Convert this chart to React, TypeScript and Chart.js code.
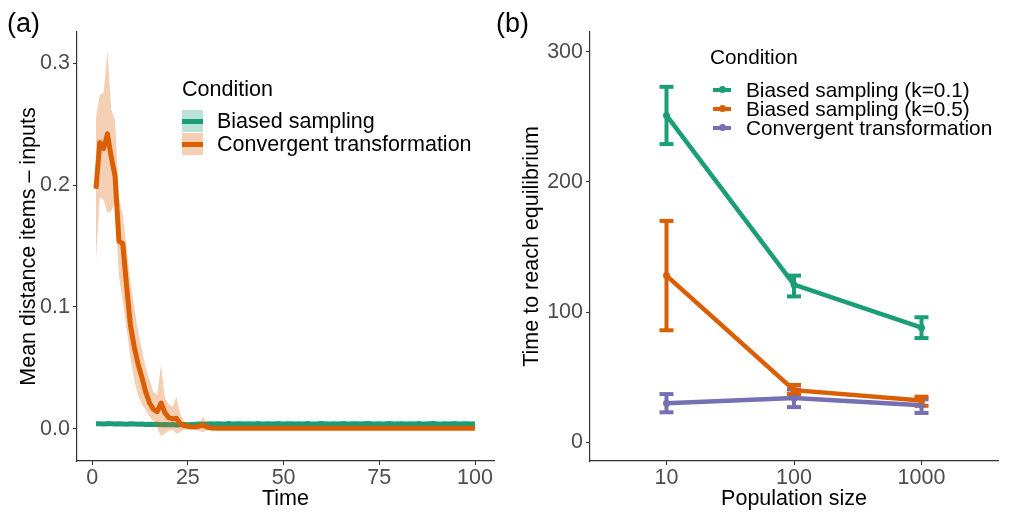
import React, { useEffect, useRef } from "react";
import { Chart, registerables } from "chart.js";

Chart.register(...registerables);

const FONT = "'Liberation Sans', Arial, Helvetica, sans-serif";
const GREEN = "#1B9E77";
const ORANGE = "#D95F02";
const PURPLE = "#7570B3";
const GREEN_FILL = "rgba(27,158,119,0.3)";
const ORANGE_FILL = "rgba(217,95,2,0.3)";
const TICK_COLOR = "#4D4D4D";
const AXIS_COLOR = "#333333";
const TEXT_SIZE = 21.5;
const LEGEND_B_SIZE = 20.8;

// ---------------- Panel (a) data ----------------
const timeSteps = Array.from({ length: 100 }, (_, i) => i + 1);
const timeTicks = [0, 25, 50, 75, 100];
const distanceTicks = [0, 0.1, 0.2, 0.3];

const convergentMean = [
  0.197, 0.235, 0.230, 0.242, 0.223, 0.207, 0.154, 0.152, 0.117, 0.085,
  0.067, 0.053, 0.042, 0.030, 0.021, 0.016, 0.014, 0.021, 0.013, 0.009,
  0.008, 0.0085, 0.004, 0.0025, 0.0018, 0.0013, 0.0013, 0.0020, 0.0027, 0.0012,
  0.0005, 0.0003, 0.0003, 0.0002, 0.0003, 0.0003, 0.0002, 0.0003, 0.0003, 0.0002,
  0.0003, 0.0002, 0.0003, 0.0003, 0.0002, 0.0003, 0.0002, 0.0003, 0.0003, 0.0002,
  0.0003, 0.0003, 0.0002, 0.0003, 0.0002, 0.0003, 0.0003, 0.0002, 0.0003, 0.0003,
  0.0002, 0.0003, 0.0003, 0.0002, 0.0003, 0.0002, 0.0003, 0.0003, 0.0002, 0.0003,
  0.0003, 0.0002, 0.0003, 0.0002, 0.0003, 0.0003, 0.0002, 0.0003, 0.0003, 0.0002,
  0.0003, 0.0002, 0.0003, 0.0003, 0.0002, 0.0003, 0.0002, 0.0003, 0.0003, 0.0002,
  0.0003, 0.0003, 0.0002, 0.0003, 0.0002, 0.0003, 0.0003, 0.0002, 0.0003, 0.0003,
];
const convergentUpper = [
  0.255, 0.274, 0.276, 0.310, 0.262, 0.253, 0.190, 0.175, 0.150, 0.120,
  0.100, 0.080, 0.065, 0.050, 0.040, 0.030, 0.028, 0.052, 0.025, 0.020,
  0.018, 0.026, 0.012, 0.006, 0.004, 0.003, 0.003, 0.005, 0.0095, 0.004,
  0.0020, 0.0012, 0.0011, 0.0010, 0.0012, 0.0011, 0.0010, 0.0011, 0.0012, 0.0010,
  0.0011, 0.0010, 0.0012, 0.0011, 0.0010, 0.0011, 0.0010, 0.0012, 0.0011, 0.0010,
  0.0011, 0.0012, 0.0010, 0.0011, 0.0010, 0.0011, 0.0012, 0.0010, 0.0011, 0.0011,
  0.0010, 0.0011, 0.0012, 0.0010, 0.0011, 0.0010, 0.0011, 0.0012, 0.0010, 0.0011,
  0.0011, 0.0010, 0.0012, 0.0010, 0.0011, 0.0011, 0.0010, 0.0011, 0.0012, 0.0010,
  0.0011, 0.0010, 0.0011, 0.0012, 0.0010, 0.0011, 0.0010, 0.0011, 0.0012, 0.0010,
  0.0011, 0.0012, 0.0010, 0.0011, 0.0010, 0.0011, 0.0012, 0.0010, 0.0011, 0.0011,
];
const convergentLower = [
  0.138, 0.190, 0.188, 0.177, 0.179, 0.185, 0.125, 0.105, 0.082, 0.058,
  0.040, 0.027, 0.020, 0.015, 0.010, 0.006, 0.000, -0.006, -0.004, -0.002,
  -0.001, -0.004, -0.003, -0.001, -0.0005, -0.0005, -0.0005, -0.002, -0.003, -0.001,
  -0.0005, -0.0006, -0.0005, -0.0006, -0.0005, -0.0005, -0.0006, -0.0005, -0.0005, -0.0006,
  -0.0005, -0.0006, -0.0005, -0.0005, -0.0006, -0.0005, -0.0006, -0.0005, -0.0005, -0.0006,
  -0.0005, -0.0005, -0.0006, -0.0005, -0.0006, -0.0005, -0.0005, -0.0006, -0.0005, -0.0005,
  -0.0006, -0.0005, -0.0005, -0.0006, -0.0005, -0.0006, -0.0005, -0.0005, -0.0006, -0.0005,
  -0.0005, -0.0006, -0.0005, -0.0006, -0.0005, -0.0005, -0.0006, -0.0005, -0.0005, -0.0006,
  -0.0005, -0.0006, -0.0005, -0.0005, -0.0006, -0.0005, -0.0006, -0.0005, -0.0005, -0.0006,
  -0.0005, -0.0005, -0.0006, -0.0005, -0.0006, -0.0005, -0.0005, -0.0006, -0.0005, -0.0005,
];

const biasedMean = [
  0.0039, 0.0040, 0.0038, 0.0041, 0.0039, 0.0037, 0.0040, 0.0038, 0.0036, 0.0039,
  0.0037, 0.0035, 0.0038, 0.0034, 0.0036, 0.0033, 0.0035, 0.0032, 0.0034, 0.0031,
  0.0033, 0.0030, 0.0032, 0.0034, 0.0031, 0.0033, 0.0035, 0.0037, 0.0036, 0.0038,
  0.0039, 0.0037, 0.0040, 0.0038, 0.0039, 0.0041, 0.0038, 0.0040, 0.0039, 0.0037,
  0.0040, 0.0038, 0.0041, 0.0039, 0.0038, 0.0040, 0.0037, 0.0039, 0.0041, 0.0038,
  0.0040, 0.0039, 0.0037, 0.0040, 0.0038, 0.0041, 0.0039, 0.0038, 0.0040, 0.0043,
  0.0039, 0.0038, 0.0040, 0.0037, 0.0039, 0.0041, 0.0038, 0.0040, 0.0039, 0.0037,
  0.0040, 0.0042, 0.0039, 0.0038, 0.0040, 0.0037, 0.0039, 0.0041, 0.0038, 0.0040,
  0.0039, 0.0037, 0.0040, 0.0038, 0.0041, 0.0039, 0.0038, 0.0040, 0.0042, 0.0039,
  0.0038, 0.0040, 0.0037, 0.0039, 0.0041, 0.0038, 0.0040, 0.0039, 0.0038, 0.0041,
];
const biasedUpper = [
  0.0051, 0.0052, 0.0050, 0.0053, 0.0051, 0.0049, 0.0052, 0.0050, 0.0048, 0.0051,
  0.0049, 0.0047, 0.0050, 0.0046, 0.0048, 0.0045, 0.0047, 0.0044, 0.0046, 0.0043,
  0.0045, 0.0042, 0.0044, 0.0046, 0.0043, 0.0045, 0.0047, 0.0049, 0.0048, 0.0050,
  0.0051, 0.0049, 0.0052, 0.0050, 0.0051, 0.0053, 0.0050, 0.0052, 0.0051, 0.0049,
  0.0052, 0.0050, 0.0053, 0.0051, 0.0050, 0.0052, 0.0049, 0.0051, 0.0053, 0.0050,
  0.0052, 0.0051, 0.0049, 0.0052, 0.0050, 0.0053, 0.0051, 0.0050, 0.0052, 0.0055,
  0.0051, 0.0050, 0.0052, 0.0049, 0.0051, 0.0053, 0.0050, 0.0052, 0.0051, 0.0049,
  0.0052, 0.0054, 0.0051, 0.0050, 0.0052, 0.0049, 0.0051, 0.0053, 0.0050, 0.0052,
  0.0051, 0.0049, 0.0052, 0.0050, 0.0053, 0.0051, 0.0050, 0.0052, 0.0054, 0.0051,
  0.0050, 0.0052, 0.0049, 0.0051, 0.0053, 0.0050, 0.0052, 0.0051, 0.0050, 0.0053,
];
const biasedLower = [
  0.0027, 0.0028, 0.0026, 0.0029, 0.0027, 0.0025, 0.0028, 0.0026, 0.0024, 0.0027,
  0.0025, 0.0023, 0.0026, 0.0022, 0.0024, 0.0021, 0.0023, 0.0020, 0.0022, 0.0019,
  0.0021, 0.0018, 0.0020, 0.0022, 0.0019, 0.0021, 0.0023, 0.0025, 0.0024, 0.0026,
  0.0027, 0.0025, 0.0028, 0.0026, 0.0027, 0.0029, 0.0026, 0.0028, 0.0027, 0.0025,
  0.0028, 0.0026, 0.0029, 0.0027, 0.0026, 0.0028, 0.0025, 0.0027, 0.0029, 0.0026,
  0.0028, 0.0027, 0.0025, 0.0028, 0.0026, 0.0029, 0.0027, 0.0026, 0.0028, 0.0031,
  0.0027, 0.0026, 0.0028, 0.0025, 0.0027, 0.0029, 0.0026, 0.0028, 0.0027, 0.0025,
  0.0028, 0.0030, 0.0027, 0.0026, 0.0028, 0.0025, 0.0027, 0.0029, 0.0026, 0.0028,
  0.0027, 0.0025, 0.0028, 0.0026, 0.0029, 0.0027, 0.0026, 0.0028, 0.0030, 0.0027,
  0.0026, 0.0028, 0.0025, 0.0027, 0.0029, 0.0026, 0.0028, 0.0027, 0.0026, 0.0029,
];

// ---------------- Panel (b) data ----------------
const populationSizes = ["10", "100", "1000"];
const equilibriumTicks = [0, 100, 200, 300];

const k01Mean = [251, 121, 88];
const k01Low = [229, 112, 80];
const k01High = [273, 128, 96];

const k05Mean = [128, 40, 32];
const k05Low = [86, 37, 28];
const k05High = [170, 44, 35];

const convMean = [30, 34, 28.5];
const convLow = [23, 27, 22.5];
const convHigh = [37, 40.5, 33];

const tickFont = { family: FONT, size: 21.5, lineHeight: 1.2 };
const titleFont = { family: FONT, size: TEXT_SIZE, lineHeight: 1.2 };

function Txt(props: { x: number; y: number; size?: number; color?: string; children: any }) {
  const size = props.size ?? TEXT_SIZE;
  return (
    <div
      style={{
        position: "absolute",
        left: props.x,
        top: props.y - size,
        height: size * 2,
        lineHeight: `${size * 2}px`,
        fontSize: size,
        fontFamily: FONT,
        color: props.color ?? "#000",
        whiteSpace: "nowrap",
      }}
    >
      {props.children}
    </div>
  );
}

export default function App() {
  const refA = useRef<HTMLCanvasElement | null>(null);
  const refB = useRef<HTMLCanvasElement | null>(null);

  useEffect(() => {
    const pts = (ys: number[]) => timeSteps.map((t, i) => ({ x: t, y: ys[i] }));
    const lineBase = {
      pointRadius: 0,
      tension: 0,
      borderJoinStyle: "round" as const,
      borderCapStyle: "butt" as const,
    };
    const axisGrid = { drawOnChartArea: false, drawTicks: true, tickLength: 4, tickColor: AXIS_COLOR, tickWidth: 1.1 };
    const axisBorder = { display: true, color: AXIS_COLOR, width: 1.2 };

    const chartA = new Chart(refA.current!, {
      type: "line",
      data: {
        datasets: [
          { ...lineBase, label: "Convergent transformation", data: pts(convergentMean), borderColor: ORANGE, borderWidth: 5, fill: false, order: 0 },
          { ...lineBase, label: "cu", data: pts(convergentUpper), borderColor: "rgba(0,0,0,0)", borderWidth: 0, backgroundColor: ORANGE_FILL, fill: "+1", order: 1 },
          { ...lineBase, label: "cl", data: pts(convergentLower), borderColor: "rgba(0,0,0,0)", borderWidth: 0, fill: false, order: 2 },
          { ...lineBase, label: "Biased sampling", data: pts(biasedMean), borderColor: GREEN, borderWidth: 5, fill: false, order: 3 },
          { ...lineBase, label: "bu", data: pts(biasedUpper), borderColor: "rgba(0,0,0,0)", borderWidth: 0, backgroundColor: GREEN_FILL, fill: "+1", order: 4 },
          { ...lineBase, label: "bl", data: pts(biasedLower), borderColor: "rgba(0,0,0,0)", borderWidth: 0, fill: false, order: 5 },
        ],
      },
      options: {
        responsive: false,
        animation: false,
        devicePixelRatio: 1,
        layout: { padding: { left: 0, top: 32, right: 11, bottom: 0 } },
        plugins: { legend: { display: false }, tooltip: { enabled: false } },
        scales: {
          x: {
            type: "linear",
            min: -3.95,
            max: 104.95,
            afterBuildTicks: (s: any) => { s.ticks = timeTicks.map((v) => ({ value: v })); },
            afterFit: (s: any) => { s.height = 52; },
            ticks: { font: tickFont, color: TICK_COLOR, padding: 0, autoSkip: false, maxRotation: 0, callback: (v: any) => String(v) },
            grid: axisGrid,
            border: axisBorder,
            title: { display: true, text: "Time", font: titleFont, color: "#000", padding: { top: 0, bottom: 1 } },
          },
          y: {
            type: "linear",
            min: -0.0266,
            max: 0.3257,
            afterBuildTicks: (s: any) => { s.ticks = distanceTicks.map((v) => ({ value: v })); },
            afterFit: (s: any) => { s.width = 77; },
            ticks: { font: tickFont, color: TICK_COLOR, padding: 3, callback: (v: any) => Number(v).toFixed(1) },
            grid: axisGrid,
            border: axisBorder,
            title: { display: true, text: "Mean distance items – inputs", font: titleFont, color: "#000", padding: { top: 16.5, bottom: 0 } },
          },
        },
      },
    } as any);

    const series = [
      { mean: k01Mean, low: k01Low, high: k01High, color: GREEN, label: "Biased sampling (k=0.1)" },
      { mean: k05Mean, low: k05Low, high: k05High, color: ORANGE, label: "Biased sampling (k=0.5)" },
      { mean: convMean, low: convLow, high: convHigh, color: PURPLE, label: "Convergent transformation" },
    ];
    const dsB: any[] = [];
    series.forEach((s, si) => {
      dsB.push({
        label: s.label,
        data: s.mean.map((v, i) => ({ x: i, y: v })),
        borderColor: s.color,
        backgroundColor: s.color,
        borderWidth: 4.5,
        pointRadius: 3.5,
        pointBorderWidth: 0,
        pointBackgroundColor: s.color,
        tension: 0,
        fill: false,
        order: si,
      });
    });
    series.forEach((s, si) => {
      s.mean.forEach((_, i) => {
        dsB.push({
          label: `${s.label} err ${i}`,
          data: [
            { x: i, y: s.low[i] },
            { x: i, y: s.high[i] },
          ],
          borderColor: s.color,
          borderWidth: 4,
          pointStyle: "line",
          pointRadius: 7,
          pointBorderWidth: 4,
          pointBorderColor: s.color,
          pointBackgroundColor: s.color,
          fill: false,
          order: 10 + si,
        });
      });
    });

    const chartB = new Chart(refB.current!, {
      type: "line",
      data: { datasets: dsB },
      options: {
        responsive: false,
        animation: false,
        devicePixelRatio: 1,
        layout: { padding: { left: 0, top: 32, right: 9, bottom: 0 } },
        plugins: { legend: { display: false }, tooltip: { enabled: false } },
        scales: {
          x: {
            type: "linear",
            min: -0.6,
            max: 2.6,
            afterBuildTicks: (s: any) => { s.ticks = populationSizes.map((_, i) => ({ value: i })); },
            afterFit: (s: any) => { s.height = 52; },
            ticks: { font: tickFont, color: TICK_COLOR, padding: 0, autoSkip: false, maxRotation: 0, callback: (v: any) => populationSizes[Number(v)] },
            grid: axisGrid,
            border: axisBorder,
            title: { display: true, text: "Population size", font: titleFont, color: "#000", padding: { top: 0, bottom: 1 } },
          },
          y: {
            type: "linear",
            min: -14.4,
            max: 315.1,
            afterBuildTicks: (s: any) => { s.ticks = equilibriumTicks.map((v) => ({ value: v })); },
            afterFit: (s: any) => { s.width = 85; },
            ticks: { font: tickFont, color: TICK_COLOR, padding: 3, callback: (v: any) => String(v) },
            grid: axisGrid,
            border: axisBorder,
            title: { display: true, text: "Time to reach equilibrium", font: titleFont, color: "#000", padding: { top: 14.5, bottom: 0 } },
          },
        },
      },
    } as any);

    return () => {
      chartA.destroy();
      chartB.destroy();
    };
  }, []);

  const legendB = [
    { label: "Biased sampling (k=0.1)", color: GREEN, y: 89.5 },
    { label: "Biased sampling (k=0.5)", color: ORANGE, y: 108.5 },
    { label: "Convergent transformation", color: PURPLE, y: 127.5 },
  ];

  return (
    <div style={{ position: "fixed", left: 0, top: 0, width: 1009, height: 513, background: "#fff", overflow: "hidden" }}>
      <canvas ref={refA} width={505} height={513} style={{ position: "absolute", left: 0, top: 0, width: 505, height: 513 }} />
      <canvas ref={refB} width={504} height={513} style={{ position: "absolute", left: 505, top: 0, width: 504, height: 513 }} />

      <Txt x={7} y={23} size={27}>(a)</Txt>
      <Txt x={496} y={23} size={27}>(b)</Txt>

      {/* Legend (a) */}
      <Txt x={182} y={89}>Condition</Txt>
      <div style={{ position: "absolute", left: 182, top: 110, width: 21, height: 22, background: GREEN_FILL }}>
        <div style={{ position: "absolute", left: 0, top: 8.5, width: 21, height: 5, background: GREEN }} />
      </div>
      <Txt x={217} y={121}>Biased sampling</Txt>
      <div style={{ position: "absolute", left: 182, top: 133, width: 21, height: 22, background: ORANGE_FILL }}>
        <div style={{ position: "absolute", left: 0, top: 8.5, width: 21, height: 5, background: ORANGE }} />
      </div>
      <Txt x={217} y={144}>Convergent transformation</Txt>

      {/* Legend (b) */}
      <Txt x={710} y={57} size={LEGEND_B_SIZE}>Condition</Txt>
      {legendB.map((it) => (
        <React.Fragment key={it.label}>
          <div style={{ position: "absolute", left: 713, top: it.y - 2, width: 18, height: 4, background: it.color }} />
          <div style={{ position: "absolute", left: 718.5, top: it.y - 3.5, width: 7, height: 7, borderRadius: "50%", background: it.color }} />
          <Txt x={746} y={it.y} size={LEGEND_B_SIZE}>{it.label}</Txt>
        </React.Fragment>
      ))}
    </div>
  );
}
